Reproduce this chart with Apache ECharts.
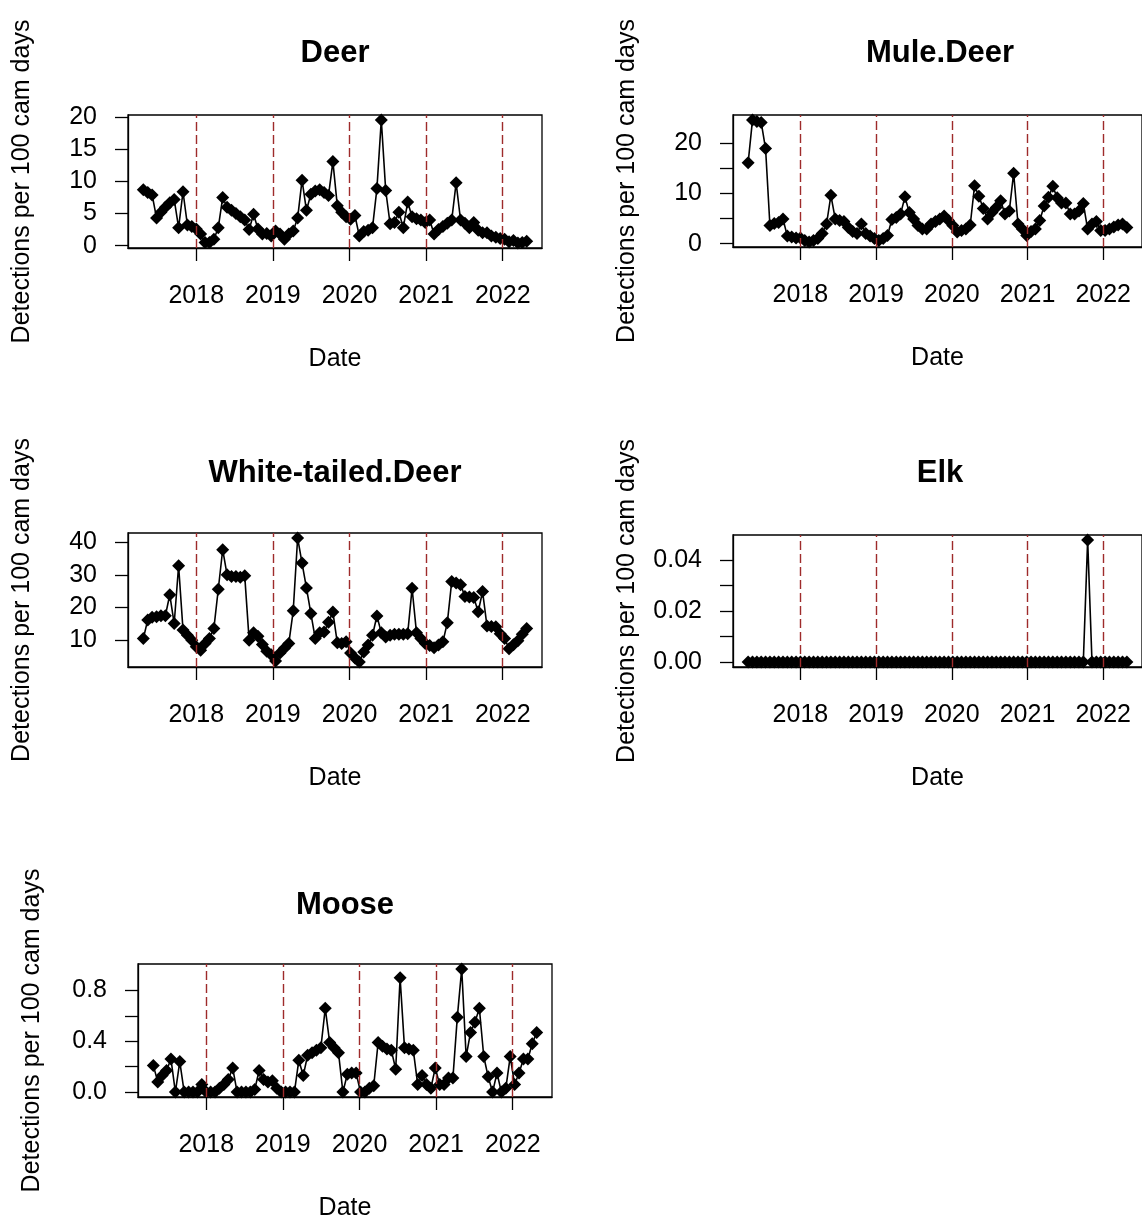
<!DOCTYPE html>
<html>
<head>
<meta charset="utf-8">
<script src="https://cdn.jsdelivr.net/npm/echarts@6/dist/echarts.min.js"></script>
<style>
  html, body { margin: 0; padding: 0; background: #ffffff; }
  #chart { width: 1142px; height: 1222px; }
</style>
</head>
<body>
<div id="chart"></div>
<script>
// Sampling grid: one value every 21 days starting 24 April 2017
const START_DATE = Date.UTC(2017, 3, 24);
const STEP_DAYS = 21;

// Year boundaries marked on every panel
const yearTicks = [2018, 2019, 2020, 2021, 2022];

// Detections per 100 camera days
const deer = [
  8.7, 8.3, 7.9, 4.3, 5.2, 6.0, 6.7, 7.2, 2.8, 8.4,
  3.2, 3.0, 2.6, 1.8, 0.5, 0.5, 1.0, 2.8, 7.5, 6.0,
  5.5, 5.0, 4.5, 4.0, 2.5, 4.9, 2.6, 1.8, 1.9, 1.5,
  2.3, 1.8, 1.0, 1.8, 2.3, 4.3, 10.2, 5.5, 8.0, 8.5,
  8.7, 8.3, 7.8, 13.1, 6.2, 5.2, 4.5, 4.1, 4.7, 1.5,
  2.2, 2.4, 2.8, 8.9, 19.6, 8.6, 3.4, 3.6, 5.2, 2.8,
  6.8, 4.5, 4.2, 4.0, 3.6, 4.0, 1.8, 2.5, 3.0, 3.5,
  4.0, 9.8, 4.0, 3.5, 2.8, 3.6, 2.4, 2.0, 2.0, 1.5,
  1.3, 1.1, 1.0, 0.6, 0.8, 0.4, 0.5, 0.7
];

const muleDeer = [
  16.1, 24.6, 24.3, 24.1, 18.9, 3.6, 4.0, 4.2, 4.9, 1.5,
  1.3, 1.1, 1.1, 0.6, 0.3, 0.6, 1.0, 2.0, 3.9, 9.6,
  4.9, 4.6, 4.4, 3.2, 2.4, 2.0, 3.9, 2.0, 1.5, 1.0,
  0.6, 1.0, 1.6, 4.8, 5.2, 5.9, 9.3, 6.2, 4.9, 3.6,
  2.9, 2.9, 3.9, 4.4, 4.9, 5.5, 4.6, 3.6, 2.3, 2.6,
  2.9, 3.7, 11.5, 9.4, 7.0, 4.9, 6.2, 7.2, 8.5, 5.9,
  6.5, 14.0, 3.9, 2.9, 1.6, 2.4, 2.9, 4.6, 7.5, 9.2,
  11.4, 9.1, 8.1, 8.1, 5.9, 5.9, 6.5, 8.0, 2.9, 3.9,
  4.4, 2.6, 2.6, 2.9, 3.3, 3.7, 3.9, 3.2
];

const whiteTailedDeer = [
  10.5, 16.2, 17.0, 17.2, 17.5, 17.5, 23.9, 15.1, 32.8, 13.1,
  11.5, 10.0, 8.0, 6.9, 9.0, 10.5, 13.6, 25.6, 37.7, 30.0,
  29.5, 29.5, 29.3, 29.7, 10.0, 12.3, 11.2, 8.7, 6.6, 5.5,
  3.6, 6.1, 7.5, 9.0, 19.0, 41.3, 33.6, 26.0, 18.2, 10.5,
  12.3, 12.5, 15.5, 18.6, 9.2, 9.0, 9.5, 6.1, 4.5, 3.3,
  6.4, 8.5, 11.5, 17.4, 12.3, 11.0, 11.5, 11.8, 11.8, 11.8,
  12.0, 25.9, 12.3, 10.5, 9.0, 8.4, 7.7, 8.5, 9.5, 15.3,
  28.0, 27.5, 27.0, 23.4, 23.2, 23.1, 18.7, 24.9, 14.3, 14.2,
  14.1, 12.0, 10.5, 7.4, 8.6, 9.8, 11.8, 13.6
];

const elk = [
  0, 0, 0, 0, 0, 0, 0, 0, 0, 0,
  0, 0, 0, 0, 0, 0, 0, 0, 0, 0,
  0, 0, 0, 0, 0, 0, 0, 0, 0, 0,
  0, 0, 0, 0, 0, 0, 0, 0, 0, 0,
  0, 0, 0, 0, 0, 0, 0, 0, 0, 0,
  0, 0, 0, 0, 0, 0, 0, 0, 0, 0,
  0, 0, 0, 0, 0, 0, 0, 0, 0, 0,
  0, 0, 0, 0, 0, 0, 0, 0, 0.048, 0,
  0, 0, 0, 0, 0, 0, 0, 0
];

const moose = [
  0.21, 0.08, 0.13, 0.17, 0.26, 0.00, 0.24, 0.00, 0.00, 0.00,
  0.00, 0.06, 0.00, 0.00, 0.00, 0.03, 0.06, 0.10, 0.19, 0.00,
  0.00, 0.00, 0.00, 0.02, 0.17, 0.10, 0.08, 0.09, 0.03, 0.00,
  0.00, 0.00, 0.00, 0.25, 0.13, 0.29, 0.31, 0.33, 0.35, 0.66,
  0.39, 0.35, 0.31, 0.00, 0.14, 0.15, 0.15, 0.00, 0.00, 0.03,
  0.05, 0.39, 0.36, 0.34, 0.33, 0.18, 0.90, 0.35, 0.34, 0.33,
  0.06, 0.13, 0.06, 0.03, 0.19, 0.06, 0.06, 0.11, 0.11, 0.59,
  0.97, 0.28, 0.47, 0.55, 0.66, 0.28, 0.12, 0.00, 0.15, 0.00,
  0.03, 0.28, 0.06, 0.15, 0.26, 0.26, 0.38, 0.47
];

// y-axis tick positions and the subset that carries a label
const deerTicks = [0, 5, 10, 15, 20], deerLabels = [0, 5, 10, 15, 20];
const muleTicks = [0, 5, 10, 15, 20], muleLabels = [0, 10, 20];
const wtTicks = [10, 20, 30, 40], wtLabels = [10, 20, 30, 40];
const elkTicks = [0, 0.01, 0.02, 0.03, 0.04], elkLabels = [0, 0.02, 0.04];
const mooseTicks = [0, 0.2, 0.4, 0.6, 0.8], mooseLabels = [0, 0.4, 0.8];

const FONT = "'Liberation Sans', Arial, Helvetica, sans-serif";
const AXIS_FONT_SIZE = 25;
const DAY_MS = 86400000;

function decimalYear(t) {
  const y = new Date(t).getUTCFullYear();
  const a = Date.UTC(y, 0, 1), b = Date.UTC(y + 1, 0, 1);
  return y + (t - a) / (b - a);
}

// axis range padded by 4% of the data span on each side
function paddedRange(vals) {
  const lo = Math.min.apply(null, vals), hi = Math.max.apply(null, vals);
  const pad = (hi - lo) * 0.04;
  return [lo - pad, hi + pad];
}

const panels = [
  { title: 'Deer', values: deer, ticks: deerTicks, labels: deerLabels, digits: 0,
    left: 128, top: 115, height: 133, titleY: 53 },
  { title: 'Mule.Deer', values: muleDeer, ticks: muleTicks, labels: muleLabels, digits: 0,
    left: 733, top: 115, height: 132, titleY: 53 },
  { title: 'White-tailed.Deer', values: whiteTailedDeer, ticks: wtTicks, labels: wtLabels, digits: 0,
    left: 128, top: 533, height: 134, titleY: 473 },
  { title: 'Elk', values: elk, ticks: elkTicks, labels: elkLabels, digits: 2,
    left: 733, top: 535, height: 132, titleY: 473 },
  { title: 'Moose', values: moose, ticks: mooseTicks, labels: mooseLabels, digits: 1,
    left: 138, top: 964, height: 135, titleY: 905 }
];
const PANEL_WIDTH = 414;

const grid = [], xAxis = [], yAxis = [], series = [], graphic = [];

panels.forEach(function (p, k) {
  const xs = p.values.map(function (_, i) { return decimalYear(START_DATE + i * STEP_DAYS * DAY_MS); });
  const xr = paddedRange(xs);
  const yr = paddedRange(p.values);

  grid.push({
    left: p.left, top: p.top, width: PANEL_WIDTH, height: p.height,
    show: true, borderColor: '#000', borderWidth: 1.3, backgroundColor: 'transparent'
  });

  xAxis.push({
    gridIndex: k, type: 'value', min: xr[0], max: xr[1],
    axisLine: { show: true, onZero: false, lineStyle: { color: '#000', width: 1.3 } },
    splitLine: { show: false },
    axisTick: { show: true, customValues: yearTicks, length: 13, lineStyle: { color: '#000', width: 1.3 } },
    axisLabel: {
      customValues: yearTicks, margin: 36, fontSize: AXIS_FONT_SIZE, color: '#000', fontFamily: FONT,
      formatter: function (v) { return String(Math.round(v)); }
    },
    name: 'Date', nameLocation: 'middle', nameGap: 99,
    nameTextStyle: { fontSize: AXIS_FONT_SIZE, color: '#000', fontFamily: FONT }
  });

  yAxis.push({
    gridIndex: k, type: 'value', min: yr[0], max: yr[1],
    axisLine: { show: true, onZero: false, lineStyle: { color: '#000', width: 1.3 } },
    splitLine: { show: false },
    axisTick: { show: true, customValues: p.ticks, length: 13, lineStyle: { color: '#000', width: 1.3 } },
    axisLabel: {
      customValues: p.labels, margin: 31, fontSize: AXIS_FONT_SIZE, color: '#000', fontFamily: FONT,
      formatter: function (v) { return Number(v).toFixed(p.digits); }
    },
    name: 'Detections per 100 cam days', nameLocation: 'middle', nameRotate: 90, nameGap: 93,
    nameTextStyle: { fontSize: AXIS_FONT_SIZE, color: '#000', fontFamily: FONT }
  });

  series.push({
    type: 'line', xAxisIndex: k, yAxisIndex: k,
    data: p.values.map(function (v, i) { return [xs[i], v]; }),
    symbol: 'diamond', symbolSize: 13, showSymbol: true,
    itemStyle: { color: '#000' },
    lineStyle: { color: '#000', width: 1.6 },
    clip: true, animation: false, silent: true,
    markLine: {
      silent: true, symbol: ['none', 'none'], animation: false,
      label: { show: false },
      lineStyle: { color: '#9e2b2b', type: [9, 4], width: 1.4 },
      data: yearTicks.map(function (y) { return { xAxis: y }; })
    }
  });

  graphic.push({
    type: 'text', x: p.left + PANEL_WIDTH / 2, y: p.titleY,
    style: {
      text: p.title, fill: '#000', font: 'bold 31px ' + FONT,
      textAlign: 'center', textVerticalAlign: 'middle', align: 'center', verticalAlign: 'middle'
    }
  });
});

const chart = echarts.init(document.getElementById('chart'), null, { renderer: 'canvas' });
chart.setOption({
  backgroundColor: '#ffffff',
  animation: false,
  grid: grid,
  xAxis: xAxis,
  yAxis: yAxis,
  series: series,
  graphic: graphic
});
</script>
</body>
</html>
